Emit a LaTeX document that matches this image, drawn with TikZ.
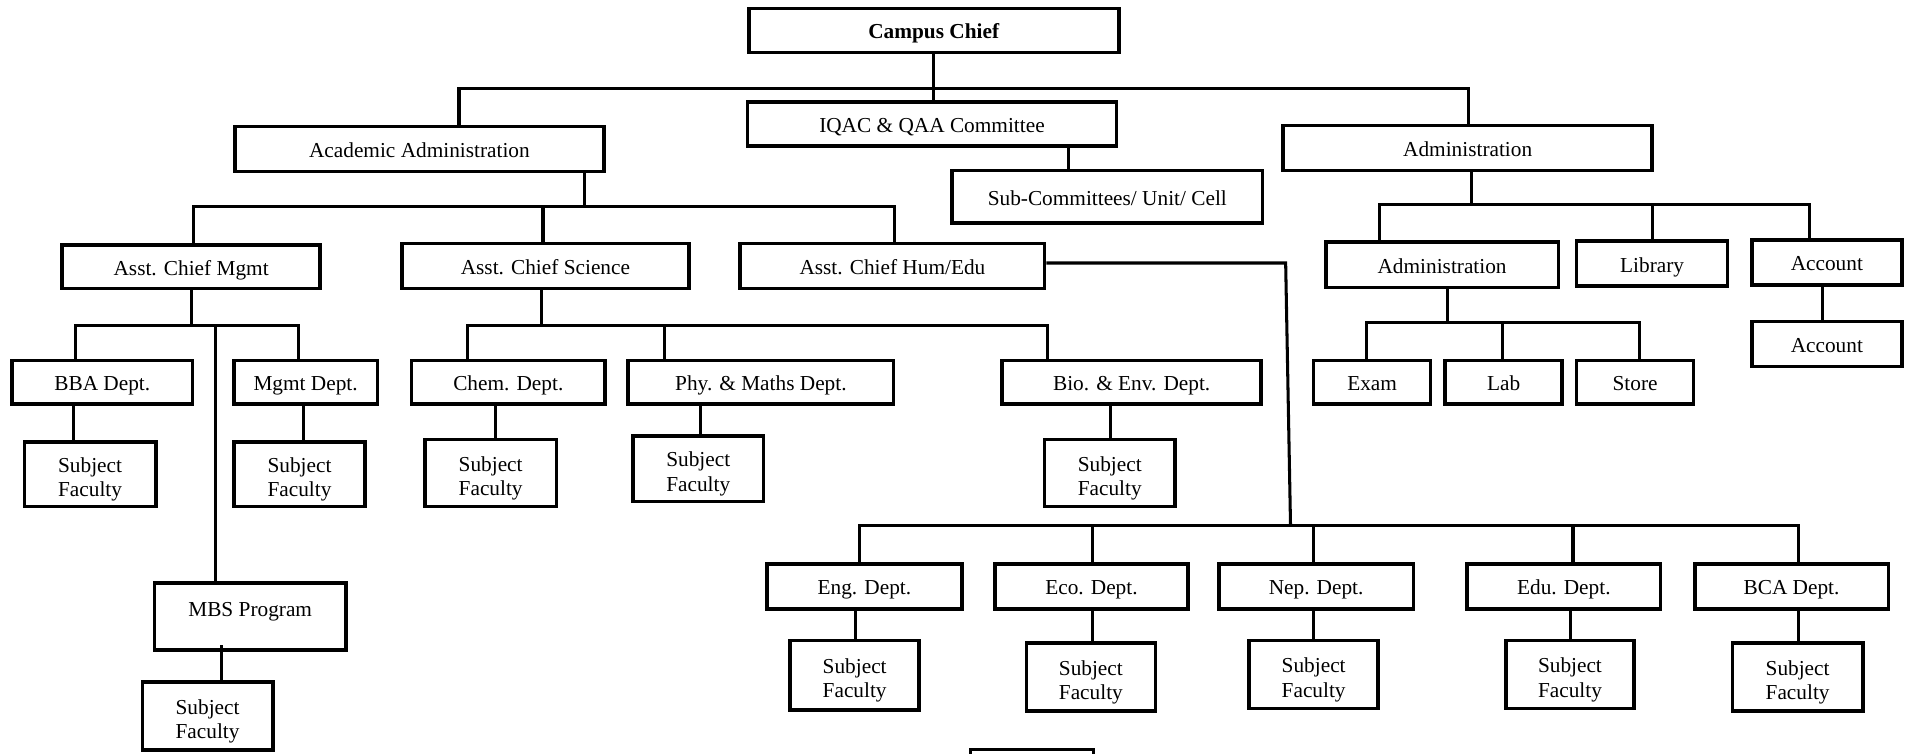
\documentclass[tikz,border=0pt]{standalone}
\usepackage{fontspec}
\setmainfont{Liberation Serif}
\tikzset{
  box/.style={draw, line width=3pt, inner sep=0pt, align=center, text height=14.5pt, text depth=0.5pt, font=\fontsize{17.5}{20}\selectfont},
  twobox/.style={draw, line width=3pt, inner sep=0pt, font=\fontsize{17.5}{20}\selectfont},
  conn/.style={line width=2.5pt},
  lbl/.style={inner sep=0pt, text height=14.5pt, text depth=0.5pt, font=\fontsize{17.5}{20}\selectfont},
}
\newcommand\mybox[6]{\node[box, minimum width=#4pt, minimum height=#5pt] (#1) at (#2,#3) {#6};}
\newcommand\mysf[5]{\node[twobox, minimum width=#4pt, minimum height=#5pt] (#1) at (#2,#3) {\raisebox{-4.5pt}[\height][\depth]{\begin{tabular}{@{}c@{}}Subject\\Faculty\end{tabular}}};}
\begin{document}
\begin{tikzpicture}[x=1pt,y=-1pt]
\useasboundingbox (0,0) rectangle (1568,619);
% boxes
\mybox{chief}{767}{25}{304}{36}{\textbf{Campus Chief}}
\mybox{iqac}{765.5}{102}{303}{36}{IQAC \& QAA Committee}
\mybox{acad}{344.5}{122.5}{303}{37}{Academic Administration}
\mybox{adm}{1205.5}{121.5}{303}{37}{Administration}
\mybox{sub}{909.5}{161.5}{255}{43}{Sub-Committees/ Unit/ Cell}
\mybox{acm}{157}{219}{212}{36}{Asst. Chief Mgmt}
\mybox{acs}{448}{218.5}{236}{37}{Asst. Chief Science}
\mybox{ach}{733}{218.5}{250}{37}{Asst. Chief Hum/Edu}
\mybox{bba}{84}{314}{148}{36}{BBA Dept.}
\mybox{mgmt}{251}{314}{118}{36}{Mgmt Dept.}
\mybox{chem}{417.5}{314}{159}{36}{Chem. Dept.}
\mybox{phy}{625}{314}{218}{36}{Phy. \& Maths Dept.}
\mybox{bio}{929.5}{314}{213}{36}{Bio. \& Env. Dept.}
\mybox{adm2}{1184.5}{217.5}{191}{37}{Administration}
\mybox{lib}{1357}{216.5}{124}{37}{Library}
\mybox{acc}{1500.5}{215.5}{123}{37}{Account}
\mybox{acc2}{1500.5}{282.5}{123}{37}{Account}
\mybox{exam}{1127}{314}{96}{36}{Exam}
\mybox{lab}{1235}{314}{96}{36}{Lab}
\mybox{store}{1343}{314}{96}{36}{Store}
\mysf{sfbba}{74}{389.5}{108}{53}
\mysf{sfmgmt}{246}{389.5}{108}{53}
\mysf{sfchem}{403}{388.5}{108}{55}
\mysf{sfphy}{573.5}{385}{107}{54}
\mysf{sfbio}{911.5}{388.5}{107}{55}
\mybox{mbs}{205.5}{506.5}{157}{55}{}
\node[lbl] (mbstext) at (205.5,499) {MBS Program};
\mysf{sfmbs}{170.5}{588}{107}{56}
\mybox{eng}{710}{481.5}{160}{37}{Eng. Dept.}
\mybox{eco}{896.5}{481.5}{159}{37}{Eco. Dept.}
\mybox{nep}{1081}{481.5}{160}{37}{Nep. Dept.}
\mybox{edu}{1284.5}{481.5}{159}{37}{Edu. Dept.}
\mybox{bca}{1471.5}{481.5}{159}{37}{BCA Dept.}
\mysf{sfeng}{702}{554.5}{106}{57}
\mysf{sfeco}{896}{556}{106}{56}
\mysf{sfnep}{1079}{554}{106}{56}
\mysf{sfedu}{1289.5}{554}{105}{56}
\mysf{sfbca}{1476.5}{556}{107}{56}
% partial blank box at the bottom edge
\draw[line width=2pt] (797,621) -- (797,615.5) -- (898,615.5) -- (898,621);
% bus coordinates
\coordinate (t1) at (377,73);
\coordinate (t2) at (1206,73);
\coordinate (a0) at (480,170);
\coordinate (a1) at (159,170);
\coordinate (a2) at (446,170);
\coordinate (a3) at (735,170);
\coordinate (m0) at (157,267);
\coordinate (m1) at (62,267);
\coordinate (m2) at (245,267);
\coordinate (m3) at (177,267);
\coordinate (s0) at (445,267);
\coordinate (s1) at (384,267);
\coordinate (s2) at (546,267);
\coordinate (s3) at (860,267);
\coordinate (h1) at (1056,216);
\coordinate (h2) at (1060,432);
\coordinate (e1) at (706,432);
\coordinate (e5) at (1477,432);
\coordinate (r0) at (1209,168);
\coordinate (r1) at (1133,168);
\coordinate (r2) at (1357,168);
\coordinate (r3) at (1486,168);
\coordinate (d0) at (1189,265);
\coordinate (d1) at (1122,265);
\coordinate (d2) at (1234,265);
\coordinate (d3) at (1347,265);
% connectors
\draw[conn] (chief.south) -- (chief.south |- iqac.north);
\draw[conn] (acad.north -| t1) |- (t2) -- (adm.north -| t2);
\draw[conn] (iqac.south -| 878,0) -- (sub.north -| 878,0);
\draw[conn] (acad.south -| a0) -- (a0);
\draw[conn] (acm.north -| a1) |- (a3) -- (ach.north -| a3);
\draw[conn] (a2) -- (acs.north -| a2);
\draw[conn] (acm.south -| m0) -- (m0);
\draw[conn] (bba.north -| m1) |- (m2) -- (mgmt.north -| m2);
\draw[conn] (m3) -- (mbs.north -| m3);
\draw[conn] (bba.south -| 60,0) -- (sfbba.north -| 60,0);
\draw[conn] (mgmt.south -| 249,0) -- (sfmgmt.north -| 249,0);
\draw[conn] (182,530) -- (sfmbs.north -| 182,0);
\draw[conn] (acs.south -| s0) -- (s0);
\draw[conn] (chem.north -| s1) |- (s3) -- (bio.north -| s3);
\draw[conn] (s2) -- (phy.north -| s2);
\draw[conn] (chem.south -| 407,0) -- (sfchem.north -| 407,0);
\draw[conn] (phy.south -| 575,0) -- (sfphy.north -| 575,0);
\draw[conn] (bio.south -| 912,0) -- (sfbio.north -| 912,0);
\draw[conn] (ach.east |- h1) -- (h1) -- (h2);
\draw[conn] (eng.north -| e1) |- (e5) -- (bca.north -| e5);
\draw[conn] (eco.north -| 897,0) -- (897,432);
\draw[conn] (nep.north -| 1079,0) -- (1079,432);
\draw[conn] (edu.north -| 1292,0) -- (1292,432);
\draw[conn] (eng.south -| 703,0) -- (sfeng.north -| 703,0);
\draw[conn] (eco.south -| 897,0) -- (sfeco.north -| 897,0);
\draw[conn] (nep.south -| 1079,0) -- (sfnep.north -| 1079,0);
\draw[conn] (edu.south -| 1290,0) -- (sfedu.north -| 1290,0);
\draw[conn] (bca.south -| 1477,0) -- (sfbca.north -| 1477,0);
\draw[conn] (adm.south -| r0) -- (r0);
\draw[conn] (adm2.north -| r1) |- (r3) -- (acc.north -| r3);
\draw[conn] (r2) -- (lib.north -| r2);
\draw[conn] (acc.south -| 1497,0) -- (acc2.north -| 1497,0);
\draw[conn] (adm2.south -| d0) -- (d0);
\draw[conn] (exam.north -| d1) |- (d3) -- (store.north -| d3);
\draw[conn] (d2) -- (lab.north -| d2);
\end{tikzpicture}
\end{document}
